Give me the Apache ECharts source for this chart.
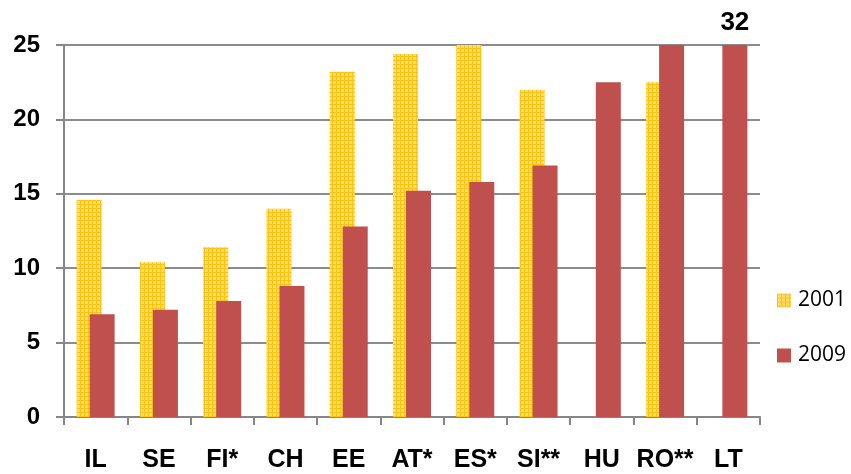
<!DOCTYPE html>
<html>
<head>
<meta charset="utf-8">
<script src="https://cdn.jsdelivr.net/npm/echarts@6/dist/echarts.min.js"></script>
<style>html,body{margin:0;padding:0;background:#fff;}#c{width:851px;height:474px;}</style>
</head>
<body>
<div id="c"></div>
<script>
var categories = ['IL', 'SE', 'FI*', 'CH', 'EE', 'AT*', 'ES*', 'SI**', 'HU', 'RO**', 'LT'];
var values2001 = [14.6, 10.4, 11.4, 14.0, 23.2, 24.4, 25, 22.0, null, 22.5, null];
var values2009 = [6.9, 7.2, 7.8, 8.8, 12.8, 15.2, 15.8, 16.9, 22.5, 25, 32];
var yMax = 25;
var labelledIndex = 10;

var pc = document.createElement('canvas');
pc.width = 4; pc.height = 4;
var g = pc.getContext('2d');
g.fillStyle = '#FFDD70';
g.fillRect(0, 0, 4, 4);
g.fillStyle = '#FFC20E';
g.fillRect(0, 0, 4, 1);
g.fillRect(0, 0, 1, 4);
var yellow = { image: pc, repeat: 'repeat' };

function capped(arr, withLabel) {
  return arr.map(function (v, i) {
    if (v === null) return null;
    var item = { value: Math.min(v, yMax) };
    if (withLabel && i === labelledIndex) {
      item.label = {
        show: true, position: 'top', distance: 9,
        formatter: String(v),
        fontFamily: 'Liberation Sans', fontWeight: 'bold', fontSize: 26, color: '#000'
      };
    }
    return item;
  });
}

var chart = echarts.init(document.getElementById('c'));
chart.setOption({
  animation: false,
  grid: { left: 64, right: 91, top: 45, bottom: 57 },
  legend: {
    orient: 'vertical', left: 777, top: 290, itemGap: 34, padding: 0,
    itemWidth: 14, itemHeight: 14, icon: 'rect',
    textStyle: { fontFamily: 'Open Sans', fontSize: 21, color: '#000', lineHeight: 14, padding: [0, 0, 0, 2] },
    data: ['2001', '2009']
  },
  xAxis: {
    type: 'category', data: categories,
    axisLine: { lineStyle: { color: '#868686', width: 2 } },
    axisTick: { show: true, length: 8, lineStyle: { color: '#868686', width: 2 } },
    axisLabel: { interval: 0, margin: 31, fontFamily: 'Liberation Sans', fontWeight: 'bold', fontSize: 25, color: '#000' }
  },
  yAxis: {
    type: 'value', min: 0, max: yMax, interval: 5,
    axisLine: { show: true, lineStyle: { color: '#868686', width: 2 } },
    axisTick: { show: true, length: 8, lineStyle: { color: '#868686', width: 2 } },
    splitLine: { lineStyle: { color: '#8c8c8c', width: 2 } },
    axisLabel: { margin: 24, fontFamily: 'Liberation Sans', fontWeight: 'bold', fontSize: 24, color: '#000' }
  },
  series: [
    { name: '2001', type: 'bar', data: capped(values2001, false), barWidth: 25, barGap: '-48%',
      itemStyle: { color: yellow } },
    { name: '2009', type: 'bar', data: capped(values2009, true), barWidth: 25,
      itemStyle: { color: '#C0504D' } }
  ]
});
</script>
</body>
</html>
